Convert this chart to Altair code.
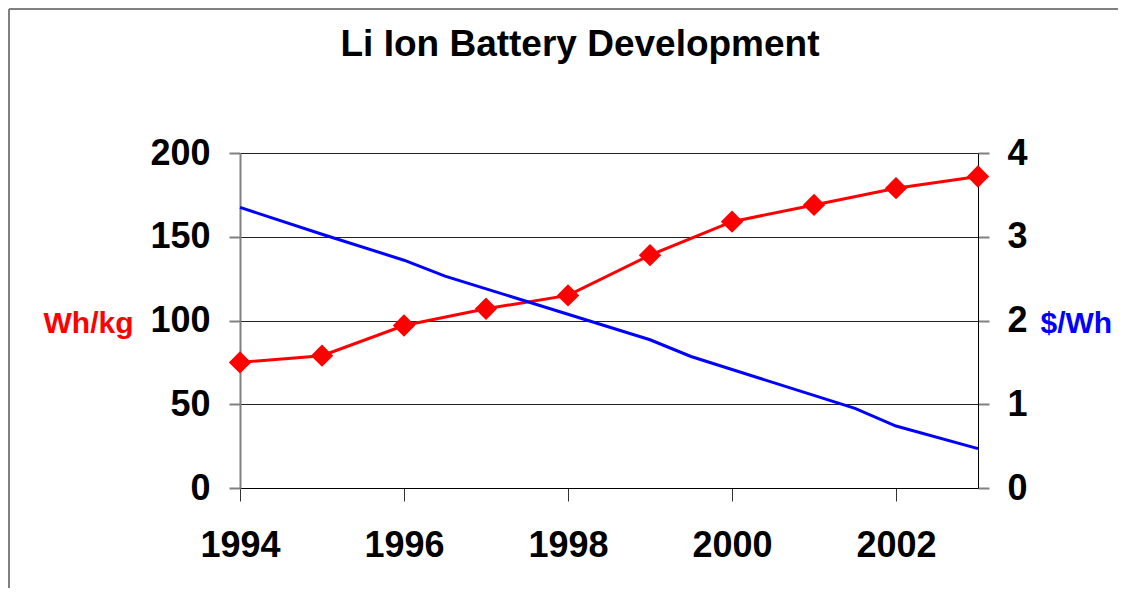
import altair as alt
import pandas as pd

# Data
years = [1994, 1995, 1996, 1997, 1998, 1999, 2000, 2001, 2002, 2003]
wh_per_kg = [75, 79, 97, 107, 115, 139, 159, 169, 179, 186]

cost_years = [1994, 1995, 1996, 1996.5, 1999, 1999.5, 2001.5, 2002, 2003]
dollar_per_wh = [3.35, 3.03, 2.72, 2.53, 1.77, 1.57, 0.95, 0.74, 0.47]

x_ticks = [1994, 1996, 1998, 2000, 2002]
left_ticks = [0, 50, 100, 150, 200]
right_ticks = [0, 1, 2, 3, 4]

TITLE = "Li Ion Battery Development"
FONT = "Liberation Sans"

energy = pd.DataFrame({"year": years, "whkg": wh_per_kg})
cost = pd.DataFrame({"year": cost_years, "cost": dollar_per_wh})

x_axis = alt.Axis(
    values=x_ticks, format="d", grid=False, tickSize=13, tickColor="#333333",
    domainColor="#000000", labelFont=FONT, labelFontSize=36, labelFontWeight="bold",
    labelColor="#000000", labelPadding=27, title=None, labelFlush=False,
)
x_enc = alt.X("year:Q", scale=alt.Scale(domain=[1994, 2003], nice=False, zero=False), axis=x_axis)

left_axis = alt.Axis(
    values=left_ticks, grid=True, gridColor="#222222", gridWidth=1,
    domainColor="#808080", domainWidth=2, tickColor="#808080", tickWidth=2, tickSize=11,
    labelFont=FONT, labelFontSize=36, labelFontWeight="bold", labelColor="#000000",
    labelPadding=19, title="Wh/kg", titleColor="#FF0000", titleFont=FONT,
    titleFontSize=30, titleFontWeight="bold", titleAngle=0, titleAlign="right",
    titleBaseline="middle", titleX=-107, titleY=170,
)
right_axis = alt.Axis(
    values=right_ticks, grid=False, orient="right",
    domainColor="#000000", domainWidth=1, tickColor="#808080", tickWidth=2, tickSize=11,
    labelFont=FONT, labelFontSize=36, labelFontWeight="bold", labelColor="#000000",
    labelPadding=18, title="$/Wh", titleColor="#0000FF", titleFont=FONT,
    titleFontSize=30, titleFontWeight="bold", titleAngle=0, titleAlign="left",
    titleBaseline="middle", titleX=62, titleY=170,
)

y_left = alt.Y("whkg:Q", scale=alt.Scale(domain=[0, 200], nice=False), axis=left_axis)
y_right = alt.Y("cost:Q", scale=alt.Scale(domain=[0, 4], nice=False), axis=right_axis)

red_line = alt.Chart(energy).mark_line(color="#FF0000", strokeWidth=3).encode(x=x_enc, y=y_left)
red_pts = alt.Chart(energy).mark_point(
    shape="diamond", filled=True, size=500, color="#FF0000", opacity=1
).encode(x=x_enc, y=y_left)
red = alt.layer(red_line, red_pts)

blue = alt.Chart(cost).mark_line(color="#0000FF", strokeWidth=3).encode(x=x_enc, y=y_right)

border_top = alt.Chart(energy).mark_rule(color="#808080", strokeWidth=2).encode(
    x=alt.value(-231), x2=alt.value(1200), y=alt.value(-144)
)
border_left = alt.Chart(energy).mark_rule(color="#808080", strokeWidth=2).encode(
    x=alt.value(-231), y=alt.value(-144), y2=alt.value(600)
)

title_text = alt.Chart(pd.DataFrame({"t": [TITLE]})).mark_text(
    font=FONT, fontSize=37, fontWeight="bold", color="#000000",
    align="center", baseline="alphabetic",
).encode(text="t:N", x=alt.value(340), y=alt.value(-97))

chart = (
    alt.layer(border_top, border_left, title_text, red, blue)
    .resolve_scale(y="independent")
    .properties(
        width=738,
        height=335,
        autosize=alt.AutoSizeParams(type="none"),
        padding={"left": 232, "top": 145, "right": 140, "bottom": 100},
    )
    .configure_view(stroke=None)
)

chart.save("out.html", embed_options={"renderer": "svg", "actions": False})
